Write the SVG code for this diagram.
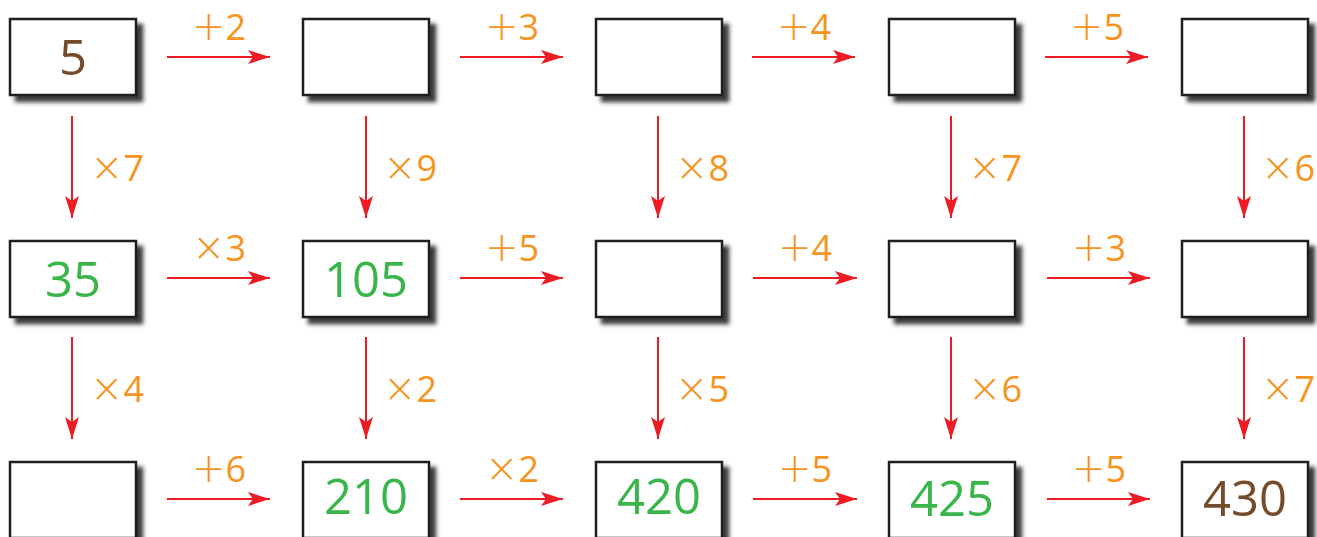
<svg xmlns="http://www.w3.org/2000/svg" width="1317" height="537" viewBox="0 0 1317 537">
<defs>
<filter id="sh" x="-10%" y="-10%" width="130%" height="140%">
<feDropShadow dx="6" dy="6" stdDeviation="2.2" flood-color="#222" flood-opacity="0.9"/>
</filter>
<marker id="ah" markerUnits="userSpaceOnUse" markerWidth="24" markerHeight="16" refX="22" refY="7" orient="auto">
<path d="M0,0 L22,7 L0,14 L5,7 Z" fill="#ED1C24"/>
</marker>
</defs>
<style>
.box{fill:#fff;stroke:#231F20;stroke-width:2.5;filter:url(#sh)}
.num{font-family:"Open Sans","Liberation Sans",sans-serif;font-size:49px;font-weight:500;text-anchor:middle}
.g{fill:#39B54A}
.b{fill:#754C29}
.lbl{font-family:"Open Sans","Liberation Sans",sans-serif;font-size:36px;fill:#F7941D}
.x{font-family:"DejaVu Sans",sans-serif;font-size:40px;font-weight:300}
.h{text-anchor:middle}
.c line{stroke:#ED1C24;stroke-width:2;marker-end:url(#ah)}
</style>
<rect width="1317" height="537" fill="#fff"/>
<g class="c" id="connectors">
<line x1="167" y1="57" x2="270" y2="57"/>
<line x1="460" y1="57" x2="563" y2="57"/>
<line x1="752" y1="57" x2="855" y2="57"/>
<line x1="1045" y1="57" x2="1148" y2="57"/>
<line x1="167" y1="278" x2="270" y2="278"/>
<line x1="460" y1="278" x2="563" y2="278"/>
<line x1="753" y1="278" x2="857" y2="278"/>
<line x1="1047" y1="278" x2="1150" y2="278"/>
<line x1="167" y1="499" x2="270" y2="499"/>
<line x1="460" y1="499" x2="563" y2="499"/>
<line x1="753" y1="499" x2="857" y2="499"/>
<line x1="1047" y1="499" x2="1150" y2="499"/>
<line x1="72" y1="116" x2="72" y2="218"/>
<line x1="366" y1="116" x2="366" y2="218"/>
<line x1="658" y1="116" x2="658" y2="218"/>
<line x1="951" y1="116" x2="951" y2="218"/>
<line x1="1244" y1="116" x2="1244" y2="218"/>
<line x1="72" y1="337" x2="72" y2="439"/>
<line x1="366" y1="337" x2="366" y2="439"/>
<line x1="658" y1="337" x2="658" y2="439"/>
<line x1="951" y1="337" x2="951" y2="439"/>
<line x1="1244" y1="337" x2="1244" y2="439"/>
</g>
<g id="labels">
<text class="lbl h" x="219" y="40"><tspan class="x">+</tspan>2</text>
<text class="lbl h" x="512" y="40"><tspan class="x">+</tspan>3</text>
<text class="lbl h" x="804" y="40"><tspan class="x">+</tspan>4</text>
<text class="lbl h" x="1097" y="40"><tspan class="x">+</tspan>5</text>
<text class="lbl h" x="219" y="261"><tspan class="x">×</tspan>3</text>
<text class="lbl h" x="512" y="261"><tspan class="x">+</tspan>5</text>
<text class="lbl h" x="805" y="261"><tspan class="x">+</tspan>4</text>
<text class="lbl h" x="1099" y="261"><tspan class="x">+</tspan>3</text>
<text class="lbl h" x="219" y="482"><tspan class="x">+</tspan>6</text>
<text class="lbl h" x="512" y="482"><tspan class="x">×</tspan>2</text>
<text class="lbl h" x="805" y="482"><tspan class="x">+</tspan>5</text>
<text class="lbl h" x="1099" y="482"><tspan class="x">+</tspan>5</text>
<text class="lbl" x="90" y="181"><tspan class="x">×</tspan>7</text>
<text class="lbl" x="383" y="181"><tspan class="x">×</tspan>9</text>
<text class="lbl" x="675" y="181"><tspan class="x">×</tspan>8</text>
<text class="lbl" x="968" y="181"><tspan class="x">×</tspan>7</text>
<text class="lbl" x="1261" y="181"><tspan class="x">×</tspan>6</text>
<text class="lbl" x="90" y="402"><tspan class="x">×</tspan>4</text>
<text class="lbl" x="383" y="402"><tspan class="x">×</tspan>2</text>
<text class="lbl" x="675" y="402"><tspan class="x">×</tspan>5</text>
<text class="lbl" x="968" y="402"><tspan class="x">×</tspan>6</text>
<text class="lbl" x="1261" y="402"><tspan class="x">×</tspan>7</text>
</g>
<g id="n11"><rect class="box" x="10" y="19" width="126" height="76"/><text class="num b" x="73" y="75">5</text></g>
<g id="n12"><rect class="box" x="303" y="19" width="126" height="76"/></g>
<g id="n13"><rect class="box" x="596" y="19" width="126" height="76"/></g>
<g id="n14"><rect class="box" x="889" y="19" width="126" height="76"/></g>
<g id="n15"><rect class="box" x="1182" y="19" width="126" height="76"/></g>
<g id="n21"><rect class="box" x="10" y="241" width="126" height="76"/><text class="num g" x="73" y="297">35</text></g>
<g id="n22"><rect class="box" x="303" y="241" width="126" height="76"/><text class="num g" x="366" y="297">105</text></g>
<g id="n23"><rect class="box" x="596" y="241" width="126" height="76"/></g>
<g id="n24"><rect class="box" x="889" y="241" width="126" height="76"/></g>
<g id="n25"><rect class="box" x="1182" y="241" width="126" height="76"/></g>
<g id="n31"><rect class="box" x="10" y="462" width="126" height="76"/></g>
<g id="n32"><rect class="box" x="303" y="462" width="126" height="76"/><text class="num g" x="366" y="514">210</text></g>
<g id="n33"><rect class="box" x="596" y="462" width="126" height="76"/><text class="num g" x="659" y="514">420</text></g>
<g id="n34"><rect class="box" x="889" y="462" width="126" height="76"/><text class="num g" x="952" y="516">425</text></g>
<g id="n35"><rect class="box" x="1182" y="462" width="126" height="76"/><text class="num b" x="1245" y="516">430</text></g>
</svg>
